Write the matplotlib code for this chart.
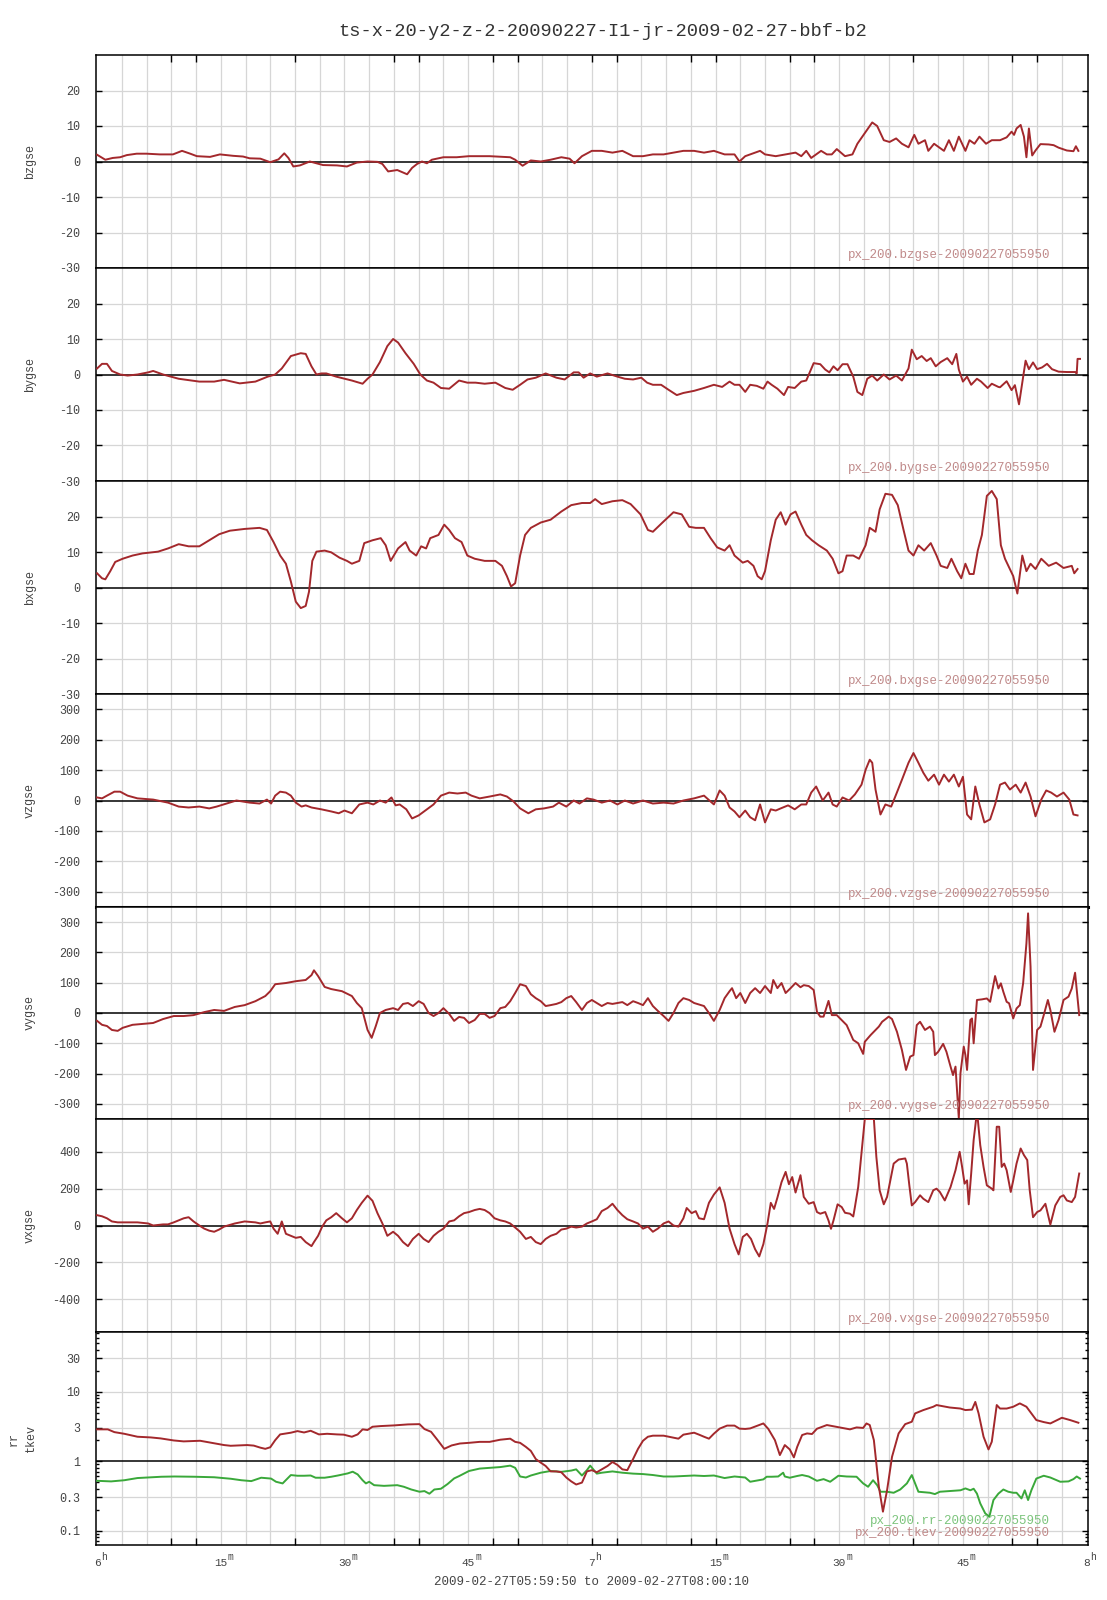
import numpy as np
import matplotlib
matplotlib.use("Agg")
import matplotlib.pyplot as plt
from matplotlib.ticker import NullFormatter, LogLocator

plt.rcParams['font.family'] = ['Liberation Mono', 'DejaVu Sans Mono']

TITLE = "ts-x-20-y2-z-2-20090227-I1-jr-2009-02-27-bbf-b2"
TIME_RANGE_TEXT = "2009-02-27T05:59:50 to 2009-02-27T08:00:10"

# time in minutes after 06:00, value
bzgse = [(0.0,1.9),(1.0,0.5),(1.9,1.0),(2.8,1.2),(3.6,1.8),(4.8,2.2),(6.0,2.2),(7.6,2.0),(9.2,2.0),(10.3,3.0),(11.3,2.2),(12.1,1.5),(13.7,1.3),(14.9,2.0),(16.5,1.6),(17.7,1.4),(18.5,0.9),(19.8,0.8),(21.0,-0.2),(22.0,0.6),(22.7,2.3),(23.2,1.0),(23.8,-1.4),(24.6,-1.1),(25.8,0.0),(27.4,-1.0),(29.1,-1.1),(30.3,-1.4),(31.5,-0.3),(32.8,0.0),(34.0,-0.1),(34.6,-0.7),(35.3,-2.8),(36.4,-2.4),(37.6,-3.6),(38.2,-1.8),(38.8,-0.7),(39.4,0.0),(40.0,-0.5),(40.6,0.5),(42.0,1.2),(43.6,1.2),(45.1,1.5),(47.6,1.5),(50.1,1.2),(50.7,0.5),(51.6,-1.2),(52.6,0.3),(53.8,0.0),(55.0,0.5),(56.3,1.2),(57.3,0.8),(57.9,-0.5),(58.8,1.5),(60.0,3.0),(61.2,3.0),(62.5,2.5),(63.7,3.0),(65.0,1.5),(66.2,1.5),(67.4,2.0),(68.7,2.0),(69.9,2.5),(71.1,3.0),(72.4,3.0),(73.6,2.5),(74.8,3.0),(76.1,2.0),(77.3,2.0),(77.9,0.0),(78.6,1.5),(79.8,2.5),(80.4,3.0),(81.0,2.0),(82.3,1.5),(83.5,2.0),(84.7,2.5),(85.4,1.5),(86.0,3.0),(86.6,1.0),(87.2,2.0),(87.8,3.0),(88.5,2.0),(89.1,2.0),(89.7,3.5),(90.7,1.5),(91.6,2.0),(92.2,5.0),(92.8,7.0),(93.4,9.0),(94.0,11.0),(94.6,10.0),(95.4,6.0),(96.1,5.5),(96.9,6.5),(97.6,5.0),(98.4,4.0),(99.1,7.5),(99.6,5.0),(100.4,6.0),(100.8,3.0),(101.5,5.0),(102.1,4.0),(102.7,3.0),(103.3,6.0),(103.9,3.0),(104.5,7.0),(105.3,3.0),(105.8,6.0),(106.4,5.0),(107.0,7.0),(107.8,5.0),(108.5,6.0),(109.5,6.0),(110.3,6.8),(110.9,8.4),(111.2,7.5),(111.5,9.3),(112.0,10.3),(112.4,7.0),(112.7,1.2),(113.0,9.3),(113.4,1.7),(113.8,3.1),(114.4,4.9),(115.4,4.8),(116.0,4.6),(116.6,3.9),(117.6,3.1),(118.4,2.9),(118.7,4.3),(119.0,3.0)]

bygse = [(0.0,1.7),(0.6,3),(1.2,3),(1.8,1),(2.8,0),(3.7,-0.3),(4.9,0),(6.2,0.6),(6.8,1),(8.0,0),(9.9,-1.2),(12.4,-2),(14.2,-2),(15.4,-1.5),(17.3,-2.5),(19.2,-2),(20.7,-0.6),(21.6,0),(22.4,1.7),(23.5,5.2),(24.7,6),(25.3,5.8),(26.0,2.3),(26.6,0),(27.2,0.3),(27.8,0.3),(29.0,-0.6),(30.9,-1.7),(32.2,-2.6),(32.8,-1.2),(33.4,0),(34.3,3.5),(35.2,8),(35.9,10),(36.5,9),(37.4,6),(38.4,3),(39.2,0),(40.0,-1.7),(40.8,-2.3),(41.7,-3.8),(42.7,-4),(43.9,-1.7),(44.9,-2.3),(45.9,-2.3),(47.0,-2.6),(48.3,-2.3),(49.5,-3.8),(50.4,-4.3),(51.3,-2.9),(52.2,-1.4),(53.2,-0.9),(54.4,0.3),(55.7,-0.9),(56.7,-1.4),(57.8,0.6),(58.4,0.6),(59.0,-0.9),(59.8,0.3),(60.6,-0.6),(61.9,0.3),(63.1,-0.6),(64.0,-1.2),(65.0,-1.4),(66.0,-0.9),(66.7,-2.3),(67.4,-2.9),(68.4,-2.9),(69.3,-4.3),(70.3,-5.8),(71.1,-5.2),(72.4,-4.6),(73.6,-3.8),(74.8,-2.9),(75.8,-3.5),(76.7,-2),(77.3,-2.9),(77.9,-2.9),(78.6,-4.9),(79.2,-2.9),(80.0,-3.2),(80.8,-4),(81.3,-2),(81.8,-2.9),(82.5,-4),(83.3,-5.8),(83.8,-3.5),(84.6,-3.8),(85.4,-2),(86.0,-1.7),(86.9,3.2),(87.7,2.9),(88.3,1.4),(88.8,0.6),(89.3,2.3),(89.8,1.2),(90.4,2.9),(91.0,2.9),(91.7,-0.6),(92.2,-4.9),(92.8,-5.8),(93.4,-1.2),(94.0,-0.3),(94.6,-1.7),(95.4,0),(96.1,-1.4),(96.9,-0.3),(97.6,-1.7),(98.4,1.7),(98.8,7),(99.4,4.3),(100.0,5.2),(100.6,3.8),(101.1,4.6),(101.7,2.3),(102.3,3.5),(103.1,4.6),(103.7,2.9),(104.2,5.8),(104.5,1.4),(105.0,-2),(105.5,-0.6),(106.0,-2.9),(106.7,-1.2),(107.2,-2),(108.0,-3.8),(108.5,-2.6),(109.3,-3.5),(109.5,-3.6),(110.3,-1.9),(110.9,-4.4),(111.3,-3),(111.8,-8.4),(112.6,3.9),(113.0,1.5),(113.5,3.4),(114.0,1.5),(114.6,2),(115.2,3),(115.8,1.5),(116.6,0.8),(117.6,0.7),(118.6,0.7),(118.8,0.3),(118.9,4.4),(119.2,4.4)]

bxgse = [(0.0,4),(0.6,2.6),(1.0,2.3),(1.6,4.6),(2.2,7.2),(3.1,8.1),(4.3,9),(5.5,9.6),(7.4,10.1),(8.6,11),(9.9,12.2),(11.1,11.6),(12.4,11.6),(13.6,13.3),(14.8,15),(16.1,16),(17.9,16.5),(19.7,16.8),(20.6,16.2),(21.4,12.8),(22.2,9),(22.9,6.7),(23.5,1.7),(24.1,-4),(24.7,-5.8),(25.3,-5.2),(25.7,-1.2),(26.1,7.5),(26.6,10.1),(27.6,10.4),(28.4,9.9),(29.4,8.4),(30.3,7.5),(30.9,6.7),(31.8,7.5),(32.4,12.5),(33.4,13.3),(34.4,13.9),(35.0,11.9),(35.6,7.5),(36.5,11),(37.4,12.8),(37.9,10.4),(38.7,9),(39.3,11.6),(39.9,11),(40.4,13.9),(41.4,14.8),(42.1,17.7),(42.7,16.2),(43.4,13.9),(44.2,12.8),(44.9,9),(45.8,8.1),(47.0,7.5),(48.3,7.5),(49.1,6.1),(49.7,3.2),(50.2,0.3),(50.7,1.2),(51.3,9),(51.9,14.8),(52.6,16.8),(53.8,18.3),(55.0,19.1),(56.3,21.4),(57.5,23.2),(58.8,23.8),(59.8,23.8),(60.4,24.9),(61.2,23.5),(62.5,24.3),(63.7,24.6),(64.7,23.5),(65.9,20.6),(66.8,16.2),(67.4,15.7),(68.7,18.6),(69.9,21.2),(70.9,20.6),(71.8,17.1),(72.6,16.8),(73.6,16.8),(74.4,13.9),(75.2,11.3),(76.1,10.4),(76.7,11.9),(77.3,9),(78.3,7),(78.9,7.5),(79.6,6.1),(80.1,3.2),(80.6,2.3),(81.0,4.6),(81.7,13.3),(82.3,19.1),(82.9,21.2),(83.5,17.7),(84.1,20.6),(84.7,21.4),(85.4,17.7),(86.0,14.8),(86.7,13.3),(87.5,11.9),(88.5,10.4),(89.2,8.1),(89.9,4),(90.4,4.6),(90.9,9),(91.7,9),(92.4,8.1),(93.2,11.9),(93.7,16.8),(94.4,15.7),(94.9,22),(95.6,26.4),(96.4,26.1),(97.1,23.2),(97.8,16.2),(98.4,10.4),(99.0,9),(99.6,11.9),(100.3,10.4),(101.1,12.5),(101.8,9),(102.3,6.1),(103.1,5.5),(103.6,8.1),(104.3,4.6),(104.8,2.6),(105.3,6.7),(105.8,3.8),(106.3,3.8),(106.8,10.4),(107.3,14.8),(107.9,25.8),(108.5,27.2),(109.1,24.9),(109.6,11.9),(110.1,8.1),(110.7,5.2),(111.1,3.2),(111.6,-1.7),(112.2,9),(112.7,4.6),(113.2,6.7),(113.8,5.2),(114.5,8.1),(115.4,6.1),(116.3,7),(117.2,5.5),(118.2,6.1),(118.5,4),(118.9,5.2)]

vzgse = [(0.0,10),(0.6,7),(1.2,16),(2.1,29),(2.8,29),(3.7,16),(4.9,7),(6.8,3),(8.6,-7),(9.9,-20),(11.1,-23),(12.4,-20),(13.6,-26),(14.5,-20),(15.7,-10),(16.9,0),(18.5,-7),(19.7,-10),(20.6,3),(21.1,-10),(21.6,16),(22.2,29),(22.9,26),(23.5,16),(24.1,-7),(24.8,-20),(25.3,-16),(26.0,-23),(27.2,-29),(28.4,-36),(29.3,-42),(30.0,-33),(30.9,-42),(31.8,-13),(32.8,-7),(33.5,-13),(34.3,0),(35.0,-7),(35.7,10),(36.2,-16),(36.7,-13),(37.5,-29),(38.2,-59),(39.0,-49),(40.0,-29),(40.8,-13),(41.7,16),(42.7,26),(43.7,23),(44.7,26),(45.4,16),(46.4,7),(47.6,13),(48.9,20),(49.7,13),(50.5,-3),(51.3,-26),(52.3,-42),(53.2,-29),(54.2,-26),(55.3,-20),(56.0,-7),(56.9,-20),(57.8,0),(58.5,-10),(59.4,7),(60.2,3),(61.2,-7),(62.2,0),(63.1,-13),(64.0,0),(65.0,-10),(66.2,0),(67.4,-10),(68.7,-7),(69.9,-10),(71.1,0),(72.4,7),(73.6,16),(74.8,-13),(75.5,33),(76.1,16),(76.7,-23),(77.3,-36),(77.9,-55),(78.6,-33),(79.2,-55),(79.8,-65),(80.4,-13),(81.0,-72),(81.7,-29),(82.3,-33),(82.9,-26),(83.8,-16),(84.6,-29),(85.4,-13),(86.0,-13),(86.6,26),(87.2,46),(88.0,0),(88.7,26),(89.2,-13),(89.7,-20),(90.4,10),(91.2,0),(91.9,20),(92.7,52),(93.2,101),(93.7,134),(94.0,124),(94.4,36),(95.0,-46),(95.6,-13),(96.3,-20),(96.9,20),(97.6,68),(98.4,124),(99.0,156),(99.6,124),(100.2,91),(100.8,65),(101.5,85),(102.1,52),(102.7,85),(103.3,62),(103.9,85),(104.5,46),(105.0,78),(105.5,-46),(106.0,-62),(106.5,46),(107.0,-13),(107.6,-72),(108.3,-62),(108.9,-13),(109.5,52),(110.1,59),(110.7,36),(111.4,52),(112.0,26),(112.6,59),(113.2,13),(113.8,-52),(114.5,3),(115.1,33),(115.7,26),(116.4,13),(117.2,26),(117.9,3),(118.4,-46),(118.9,-49)]

vygse = [(0.0,-26),(0.6,-39),(1.2,-43),(1.8,-56),(2.5,-59),(3.1,-49),(4.3,-39),(5.5,-36),(6.8,-33),(8.0,-20),(9.3,-10),(10.5,-10),(11.7,-7),(13.0,3),(14.2,10),(15.4,7),(16.7,20),(17.9,26),(19.2,39),(20.4,56),(21.0,72),(21.6,95),(22.9,99),(24.1,105),(25.3,109),(26.0,125),(26.3,141),(26.8,122),(27.6,86),(28.4,79),(29.7,72),(30.9,56),(31.5,33),(32.1,16),(32.8,-56),(33.3,-82),(33.8,-43),(34.3,0),(35.0,10),(35.9,16),(36.5,10),(37.1,30),(37.7,33),(38.3,23),(39.0,39),(39.6,30),(40.2,0),(40.8,-10),(41.4,0),(42.0,16),(42.7,-3),(43.3,-26),(43.9,-13),(44.5,-16),(45.1,-33),(45.8,-23),(46.4,-3),(47.0,-3),(47.6,-16),(48.2,-10),(48.9,16),(49.5,20),(50.1,39),(50.7,66),(51.3,95),(52.0,89),(52.6,62),(53.2,49),(53.8,39),(54.4,23),(55.0,26),(55.7,30),(56.3,36),(56.9,49),(57.5,56),(58.1,36),(58.8,10),(59.4,33),(60.0,43),(60.6,33),(61.2,23),(61.9,33),(62.5,30),(63.7,36),(64.3,26),(65.0,39),(65.6,33),(66.2,26),(66.8,49),(67.4,23),(68.0,7),(68.7,-10),(69.3,-26),(69.9,0),(70.5,33),(71.1,49),(71.8,43),(72.4,33),(73.6,23),(74.2,0),(74.8,-26),(75.5,10),(76.1,49),(76.7,72),(77.0,82),(77.5,49),(78.0,66),(78.6,33),(79.2,66),(79.8,82),(80.4,66),(81.0,89),(81.7,66),(82.0,109),(82.5,82),(83.0,99),(83.5,66),(84.1,82),(84.7,99),(85.3,85),(85.7,92),(86.3,89),(86.9,76),(87.3,4),(87.7,-12),(88.1,-12),(88.7,40),(89.1,-7),(89.7,-7),(90.1,-18),(90.9,-40),(91.7,-89),(92.3,-100),(92.9,-135),(93.1,-95),(93.8,-73),(94.4,-56),(94.8,-45),(95.2,-29),(96.0,-12),(96.4,-20),(97.0,-62),(97.6,-122),(98.1,-188),(98.6,-144),(99.0,-139),(99.4,-40),(99.8,-29),(100.4,-56),(101.0,-45),(101.4,-62),(101.6,-139),(102.0,-128),(102.6,-102),(103.0,-128),(103.5,-177),(103.8,-205),(104.1,-177),(104.5,-348),(104.7,-199),(105.1,-111),(105.3,-139),(105.5,-188),(105.9,-23),(106.1,-18),(106.3,-100),(106.7,43),(107.3,45),(107.9,48),(108.3,37),(108.9,122),(109.3,81),(109.6,98),(109.9,70),(110.3,37),(110.6,32),(111.1,-18),(111.5,15),(111.9,26),(112.3,98),(112.7,230),(112.9,329),(113.2,153),(113.5,-188),(114.0,-56),(114.4,-45),(114.8,-7),(115.3,43),(115.6,10),(116.1,-62),(116.6,-23),(117.2,43),(117.8,54),(118.2,81),(118.6,133),(119.1,-7)]

vxgse = [(0.0,56),(0.6,50),(1.2,39),(1.8,22),(2.5,17),(3.7,17),(4.9,17),(6.2,11),(6.8,0),(8.0,6),(8.6,6),(9.3,17),(10.5,39),(11.1,45),(11.7,22),(12.4,0),(13.0,-17),(13.6,-28),(14.2,-34),(14.8,-22),(15.4,-6),(16.7,11),(17.9,22),(19.2,17),(19.8,11),(20.4,17),(21.0,22),(21.4,-17),(21.9,-45),(22.4,22),(22.9,-45),(23.5,-56),(24.1,-67),(24.7,-62),(25.3,-90),(26.0,-112),(26.3,-90),(26.8,-56),(27.3,-6),(27.8,28),(28.4,45),(29.0,67),(29.7,39),(30.3,17),(30.9,39),(31.5,84),(32.1,123),(32.8,162),(33.4,134),(34.0,67),(34.6,11),(35.2,-56),(35.9,-34),(36.5,-56),(37.1,-90),(37.7,-112),(38.3,-73),(39.0,-45),(39.6,-73),(40.2,-90),(40.8,-56),(41.4,-34),(42.0,-17),(42.7,22),(43.3,28),(43.9,50),(44.5,67),(45.1,73),(45.8,84),(46.4,90),(47.0,84),(47.6,67),(48.2,39),(48.9,28),(49.5,22),(50.1,11),(50.7,-11),(51.3,-34),(52.0,-73),(52.6,-62),(53.2,-90),(53.8,-101),(54.4,-73),(55.0,-56),(55.7,-45),(56.3,-22),(56.9,-17),(57.5,-6),(58.1,-11),(58.8,-6),(59.4,11),(60.0,22),(60.6,34),(61.2,78),(61.9,95),(62.5,118),(63.1,84),(63.7,56),(64.3,34),(65.0,22),(65.6,11),(66.2,-17),(66.8,-6),(67.4,-34),(68.0,-17),(68.7,11),(69.3,22),(69.9,0),(70.5,-6),(71.1,39),(71.5,95),(72.1,67),(72.6,78),(73.0,39),(73.6,34),(74.2,123),(74.8,168),(75.5,207),(76.1,123),(76.7,-17),(77.3,-101),(77.8,-157),(78.3,-62),(78.8,-45),(79.3,-73),(79.8,-129),(80.3,-168),(80.8,-101),(81.3,11),(81.7,123),(82.1,90),(82.5,151),(83.0,235),(83.5,291),(83.9,224),(84.3,263),(84.7,179),(85.3,273),(85.7,155),(86.3,118),(86.9,127),(87.3,73),(87.7,64),(88.3,73),(88.7,27),(89.0,-18),(89.3,27),(89.8,115),(90.3,100),(90.7,69),(91.3,64),(91.7,49),(91.9,100),(92.3,209),(92.7,391),(93.1,578),(94.2,578),(94.5,373),(94.9,191),(95.4,115),(95.8,155),(96.2,245),(96.6,336),(97.2,358),(98.0,364),(98.2,336),(98.5,218),(98.8,109),(99.2,127),(99.8,164),(100.2,145),(100.8,127),(101.4,191),(101.8,200),(102.2,182),(102.8,136),(103.5,209),(104.1,300),(104.6,400),(104.9,318),(105.2,227),(105.5,245),(105.7,115),(106.0,282),(106.3,464),(106.6,578),(106.8,578),(107.1,436),(107.5,318),(107.9,218),(108.5,200),(108.7,191),(109.1,536),(109.4,536),(109.7,318),(110.0,336),(110.3,300),(110.8,182),(111.1,245),(111.5,336),(112.0,418),(112.4,382),(112.8,355),(113.1,191),(113.5,45),(114.0,73),(114.4,82),(115.0,118),(115.6,5),(116.2,109),(116.8,155),(117.2,164),(117.6,136),(118.2,127),(118.6,155),(119.1,282)]

tkev = [(0,2.86),(1.3,2.86),(2.1,2.61),(3.3,2.47),(4.9,2.24),(6.5,2.19),(7.7,2.12),(9.3,1.98),(10.5,1.92),(12.5,1.96),(13.8,1.84),(15.4,1.70),(16.2,1.66),(18.2,1.70),(19.0,1.67),(19.8,1.56),(20.4,1.50),(21.0,1.58),(21.6,2.0),(22.2,2.42),(23.5,2.56),(24.3,2.70),(25.1,2.58),(25.9,2.73),(26.3,2.6),(26.9,2.42),(27.9,2.47),(29.1,2.42),(29.9,2.4),(30.9,2.24),(31.6,2.42),(32.2,2.86),(32.8,2.80),(33.4,3.12),(34.4,3.19),(36.0,3.26),(37.7,3.37),(39.1,3.4),(39.7,2.89),(40.5,2.64),(41.3,2.0),(42.1,1.50),(43.0,1.68),(44.0,1.79),(45.1,1.83),(46.4,1.89),(47.6,1.89),(48.9,2.03),(50.1,2.1),(50.7,1.89),(51.3,1.83),(52.0,1.6),(52.6,1.40),(53.2,1.07),(53.8,0.95),(54.4,0.85),(55.0,0.71),(55.7,0.71),(56.3,0.69),(56.9,0.58),(57.5,0.51),(58.1,0.46),(58.8,0.49),(59.4,0.71),(60.0,0.74),(60.6,0.69),(61.2,0.76),(61.9,0.85),(62.5,0.97),(63.1,0.88),(63.7,0.76),(64.3,0.74),(65.0,1.07),(65.6,1.50),(66.2,1.96),(66.8,2.24),(67.4,2.32),(68.7,2.32),(69.9,2.17),(70.5,2.1),(71.1,2.4),(72.4,2.56),(73.0,2.4),(73.6,2.24),(74.2,2.1),(74.8,2.48),(75.5,2.93),(76.4,3.24),(77.3,3.24),(77.9,2.93),(78.6,2.9),(79.2,2.95),(80.8,3.48),(81.4,2.9),(82.2,2.0),(82.8,1.22),(83.4,1.70),(84.0,1.47),(84.5,1.13),(84.9,1.6),(85.5,2.37),(86.1,2.50),(86.7,2.45),(87.3,2.92),(88.5,3.30),(89.7,3.1),(91.3,2.86),(92.1,3.05),(92.9,3.0),(93.3,3.48),(93.7,3.3),(94.2,2.0),(94.8,0.43),(95.3,0.187),(95.8,0.38),(96.4,1.15),(97.2,2.5),(98.0,3.4),(98.8,3.68),(99.2,4.85),(100.2,5.42),(101.4,6.05),(101.8,6.4),(103.4,5.9),(104.7,5.7),(105.3,5.42),(106.1,5.5),(106.5,7.1),(106.9,4.85),(107.5,2.24),(108.1,1.47),(108.5,1.9),(109.1,6.4),(109.5,5.7),(110.3,5.7),(111.1,6.05),(111.9,6.76),(112.7,6.05),(113.9,3.89),(114.8,3.64),(115.6,3.48),(117.0,4.2),(118.0,3.89),(119.0,3.56)]

rr = [(0,0.52),(1.7,0.51),(3.3,0.53),(4.9,0.57),(7.8,0.595),(9.4,0.6),(11.8,0.595),(14.2,0.585),(16.2,0.557),(17.5,0.53),(18.7,0.515),(19.9,0.576),(21.1,0.56),(21.7,0.504),(22.5,0.477),(23.5,0.629),(24.3,0.615),(25.1,0.615),(25.9,0.62),(26.5,0.576),(27.6,0.576),(28.4,0.595),(29.2,0.62),(30.4,0.665),(31.0,0.703),(31.6,0.643),(32.2,0.53),(32.6,0.477),(33.0,0.504),(33.6,0.45),(34.8,0.44),(36.4,0.45),(37.2,0.427),(38.1,0.39),(39.1,0.362),(39.7,0.37),(40.3,0.339),(40.9,0.39),(41.7,0.40),(42.5,0.467),(43.3,0.563),(43.9,0.608),(45.1,0.72),(46.4,0.78),(47.6,0.8),(48.9,0.82),(50.1,0.86),(50.7,0.8),(51.3,0.6),(52.0,0.58),(52.6,0.62),(53.8,0.68),(55.0,0.72),(56.3,0.7),(57.5,0.73),(58.1,0.76),(58.8,0.62),(59.4,0.74),(59.8,0.86),(60.6,0.66),(61.2,0.68),(62.5,0.71),(63.7,0.68),(65.0,0.66),(66.2,0.65),(67.4,0.63),(68.7,0.6),(69.9,0.6),(71.1,0.61),(72.4,0.62),(73.6,0.61),(74.8,0.62),(76.1,0.57),(77.3,0.6),(78.6,0.58),(79.2,0.504),(80.8,0.545),(81.2,0.595),(81.8,0.595),(82.6,0.6),(83.2,0.68),(83.4,0.6),(84.0,0.576),(84.9,0.61),(85.5,0.63),(86.3,0.6),(87.3,0.52),(88.1,0.55),(88.9,0.504),(89.9,0.615),(90.9,0.6),(92.1,0.595),(92.9,0.477),(93.5,0.427),(94.1,0.53),(94.6,0.45),(95.0,0.362),(95.8,0.362),(96.6,0.35),(97.4,0.39),(98.2,0.477),(98.8,0.629),(99.2,0.477),(99.6,0.362),(101.0,0.35),(101.6,0.335),(102.2,0.362),(103.4,0.37),(104.7,0.38),(105.3,0.404),(105.9,0.38),(106.3,0.4),(106.7,0.34),(107.1,0.246),(107.7,0.177),(108.2,0.158),(108.7,0.275),(109.3,0.34),(109.9,0.39),(110.5,0.362),(111.1,0.35),(111.5,0.35),(112.1,0.29),(112.5,0.38),(112.9,0.275),(113.3,0.38),(113.9,0.56),(114.8,0.615),(115.6,0.58),(116.8,0.504),(117.8,0.51),(118.4,0.55),(118.8,0.6),(119.2,0.56)]

panel_names = ["bzgse", "bygse", "bxgse", "vzgse", "vygse", "vxgse"]
panel_series = [bzgse, bygse, bxgse, vzgse, vygse, vxgse]
panel_limits = [30, 30, 30, 350, 350, 578]
panel_ticks = [[20, 10, 0, -10, -20, -30], [20, 10, 0, -10, -20, -30], [20, 10, 0, -10, -20, -30],
               [300, 200, 100, 0, -100, -200, -300], [300, 200, 100, 0, -100, -200, -300],
               [400, 200, 0, -200, -400]]
log_ticks = [0.1, 0.3, 1, 3, 10, 30]
log_tick_labels = ["0.1", "0.3", "1", "3", "10", "30"]
legend_stamp = "20090227055950"

time_label_pos = [0, 15, 30, 45, 60, 75, 90, 105, 120]
time_label_base = ["6", "15", "30", "45", "7", "15", "30", "45", "8"]
time_label_sup = ["h", "m", "m", "m", "h", "m", "m", "m", "h"]
time_tick_marks = [9, 12, 24, 36, 39, 48, 51, 60, 63, 72, 75, 84, 87, 99, 111, 114]

RED = "#a3282c"
GREEN = "#3aa83a"
RED_TXT = "#c08a8a"
GREEN_TXT = "#7cc47c"
TXT = "#444444"
GRID = "#d6d6d6"

W, H = 1107, 1600
fig = plt.figure(figsize=(W / 100, H / 100), dpi=100)
fig.patch.set_facecolor("white")

left_px, right_px = 95.7, 1088
bounds = [55, 268, 481, 694, 907, 1119, 1332, 1545]
x0, x1 = -10 / 60, 120 + 10 / 60

axes = []
for i in range(7):
    top, bot = bounds[i], bounds[i + 1]
    ax = fig.add_axes([left_px / W, 1 - bot / H, (right_px - left_px) / W, (bot - top) / H])
    ax.set_xlim(x0, x1)
    for s in ax.spines.values():
        s.set_color("black")
        s.set_linewidth(1.1)
    for m in range(3, 120, 3):
        ax.axvline(m, color=GRID, lw=0.9, zorder=0)
    ax.set_xticks([])
    axes.append(ax)

mono = "Liberation Mono"
for i, ax in enumerate(axes[:6]):
    lim = panel_limits[i]
    ax.set_ylim(-lim, lim)
    ticks = panel_ticks[i]
    for tv in ticks:
        if tv != 0 and abs(tv) < lim * 0.99:
            ax.axhline(tv, color=GRID, lw=0.9, zorder=0)
    ax.axhline(0, color="black", lw=1.1, zorder=1)
    ax.set_yticks(ticks)
    ax.set_yticklabels([str(t) for t in ticks], fontfamily=mono, fontsize=8.5, color=TXT)
    ax.tick_params(axis="y", direction="in", length=4, width=1, left=True, right=True, pad=11)
    data = np.array(panel_series[i])
    ax.plot(data[:, 0], data[:, 1], color=RED, lw=1.4, zorder=3, clip_on=True)
    ax.text(0.9617, 0.06, "px_200." + panel_names[i] + "-" + legend_stamp, transform=ax.transAxes,
            ha="right", va="center", fontsize=9, color=RED_TXT, fontfamily=mono)
    fig.text(30 / W, 1 - (bounds[i] + bounds[i + 1]) / 2 / H, panel_names[i], rotation=90,
             ha="center", va="center", fontsize=8.5, color=TXT, fontfamily=mono)

axes[3].spines["bottom"].set_linewidth(2.2)

ax = axes[6]
ax.set_yscale("log")
ax.set_ylim(0.062, 72)
for tv in log_ticks:
    if tv != 1:
        ax.axhline(tv, color=GRID, lw=0.9, zorder=0)
ax.axhline(1, color="black", lw=1.1, zorder=1)
ax.set_yticks(log_ticks)
ax.set_yticklabels(log_tick_labels, fontfamily=mono, fontsize=8.5, color=TXT)
ax.yaxis.set_minor_locator(LogLocator(base=10, subs=np.arange(2, 10), numticks=20))
ax.yaxis.set_minor_formatter(NullFormatter())
ax.tick_params(axis="y", which="major", direction="in", length=4, width=1, left=True, right=True, pad=11)
ax.tick_params(axis="y", which="minor", direction="in", length=2.5, width=1, left=True, right=True)
tk = np.array(tkev)
rrd = np.array(rr)
ax.plot(rrd[:, 0], rrd[:, 1], color=GREEN, lw=1.4, zorder=3)
ax.plot(tk[:, 0], tk[:, 1], color=RED, lw=1.4, zorder=4)
ax.text(0.9617, 0.113, "px_200.rr-" + legend_stamp, transform=ax.transAxes,
        ha="right", va="center", fontsize=9, color=GREEN_TXT, fontfamily=mono)
ax.text(0.9617, 0.056, "px_200.tkev-" + legend_stamp, transform=ax.transAxes,
        ha="right", va="center", fontsize=9, color=RED_TXT, fontfamily=mono)
fig.text(22 / W, 1 - (bounds[6] + bounds[7]) / 2 / H, "rr\ntkev", rotation=90,
         ha="center", va="center", fontsize=8.5, color=TXT, fontfamily=mono, linespacing=1.6,
         multialignment="center")

# time tick marks: top of first panel, bottom of last panel
axes[0].set_xticks(time_tick_marks)
axes[0].tick_params(axis="x", direction="in", length=5, width=1, top=True, bottom=False,
                    labeltop=False, labelbottom=False)
axes[6].set_xticks(time_tick_marks)
axes[6].tick_params(axis="x", direction="in", length=5, width=1, top=False, bottom=True,
                    labeltop=False, labelbottom=False)

for pos, base, sup in zip(time_label_pos, time_label_base, time_label_sup):
    axes[6].annotate(base, xy=(pos, 0), xycoords=("data", "axes fraction"), xytext=(0, -15),
                     textcoords="offset points", ha="center", va="baseline", fontsize=8,
                     color=TXT, fontfamily=mono)
    axes[6].annotate(sup, xy=(pos, 0), xycoords=("data", "axes fraction"),
                     xytext=(len(base) * 0.6 * 8 / 2 + 0.2, -10.5), textcoords="offset points",
                     ha="left", va="baseline", fontsize=7, color=TXT, fontfamily=mono)

fig.text(603 / W, 1 - 32 / H, TITLE, ha="center", va="center", fontsize=13.5, color="#333333",
         fontfamily=mono)
fig.text(592 / W, 1 - 1582 / H, TIME_RANGE_TEXT, ha="center", va="center", fontsize=9,
         color=TXT, fontfamily=mono)

fig.savefig("out.png", dpi=100, facecolor="white")
